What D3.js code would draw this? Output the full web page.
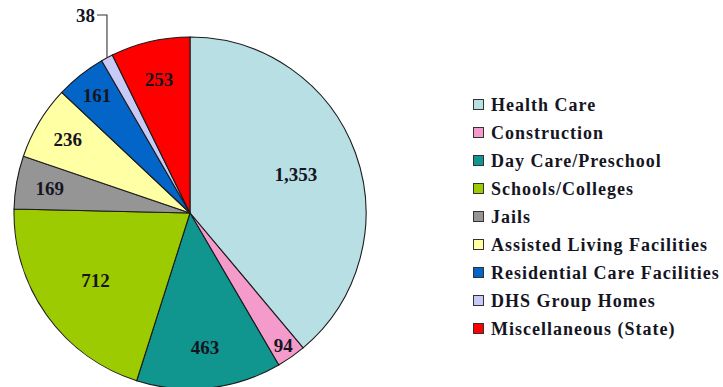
<!DOCTYPE html>
<html>
<head>
<meta charset="utf-8">
<script src="https://cdn.jsdelivr.net/npm/d3@7"></script>
<style>
  html, body { margin: 0; padding: 0; background: #fff; }
  svg { display: block; }
</style>
</head>
<body>
<svg id="chart" width="723" height="387"></svg>
<script>
// Facility categories and counts
const categories = [
  "Health Care", "Construction", "Day Care/Preschool", "Schools/Colleges", "Jails",
  "Assisted Living Facilities", "Residential Care Facilities", "DHS Group Homes", "Miscellaneous (State)"
];
const values = [1353, 94, 463, 712, 169, 236, 161, 38, 253];
const colors = ["#B8DFE4", "#F59BCB", "#10958F", "#9BCB00", "#959595", "#FFFFA3", "#0465C9", "#C9C9F7", "#FF0000"];

// Radial position (fraction of radius) of each slice's value label
const labelRadius = [0.64, 0.92, 0.77, 0.66, 0.81, 0.81, 0.85, null, 0.78];

const FONT = "Liberation Serif";
const INK = "#15151f";

const svg = d3.select("#chart");
const cx = 190, cy = 213, R = 176;

const pie = d3.pie().sort(null).value(d => d.value);
const data = categories.map((c, i) => ({ name: c, value: values[i], color: colors[i], lr: labelRadius[i] }));
const arcs = pie(data);
const arc = d3.arc().innerRadius(0).outerRadius(R);

const g = svg.append("g").attr("transform", `translate(${cx},${cy})`);

g.selectAll("path.slice")
  .data(arcs)
  .enter().append("path")
  .attr("class", "slice")
  .attr("d", arc)
  .attr("fill", d => d.data.color)
  .attr("stroke", "#1c1c1c")
  .attr("stroke-width", 1.1);

const fmt = d3.format(",");

function styleText(sel, size) {
  return sel.style("font-family", FONT)
    .style("font-weight", "bold")
    .style("font-size", size + "px")
    .style("fill", INK);
}

// Labels inside slices
g.selectAll("text.val")
  .data(arcs.filter(d => d.data.lr !== null))
  .enter().append("text")
  .attr("class", "val")
  .attr("transform", d => {
    const r = R * d.data.lr;
    const a = (d.startAngle + d.endAngle) / 2;
    return `translate(${r * Math.sin(a)},${-r * Math.cos(a)})`;
  })
  .attr("text-anchor", "middle")
  .attr("dy", "0.35em")
  .call(styleText, 19)
  .text(d => fmt(d.data.value));

// Small slice labelled outside with a leader line
arcs.filter(d => d.data.lr === null).forEach(d => {
  const a = (d.startAngle + d.endAngle) / 2;
  const px = R * Math.sin(a), py = -R * Math.cos(a);
  const topY = -198;
  g.append("path")
    .attr("d", `M${px},${py}L${px},${topY}L${px - 10},${topY}`)
    .attr("fill", "none")
    .attr("stroke", "#333")
    .attr("stroke-width", 1.1);
  g.append("text")
    .attr("x", px - 12)
    .attr("y", topY)
    .attr("dy", "0.35em")
    .attr("text-anchor", "end")
    .call(styleText, 19)
    .text(fmt(d.data.value));
});

// Legend
const legend = svg.append("g").attr("transform", "translate(473,105)");
const rowY = d3.scalePoint().domain(categories).range([0, 224]);
const rows = legend.selectAll("g.row")
  .data(data)
  .enter().append("g")
  .attr("class", "row")
  .attr("transform", d => `translate(0,${rowY(d.name)})`);
rows.append("rect")
  .attr("x", 0.5).attr("y", -5.5)
  .attr("width", 10).attr("height", 10)
  .attr("fill", d => d.color)
  .attr("stroke", "#333")
  .attr("stroke-width", 1);
rows.append("text")
  .attr("x", 18)
  .attr("dy", "0.35em")
  .call(styleText, 18)
  .style("letter-spacing", "1px")
  .text(d => d.name);
</script>
</body>
</html>
